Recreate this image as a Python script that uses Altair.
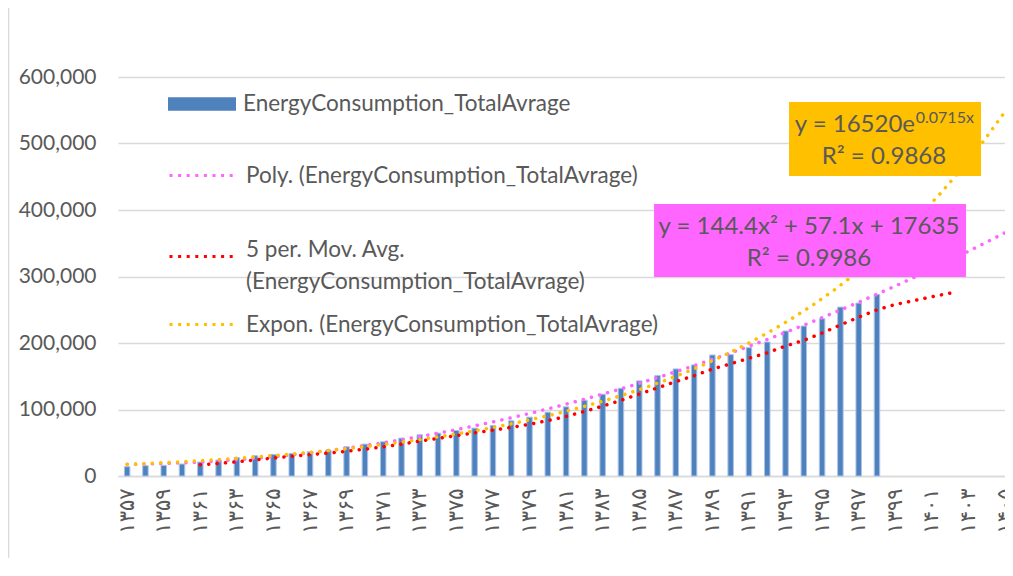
import altair as alt
import pandas as pd

# ---------------- data ----------------
years = [1357, 1358, 1359, 1360, 1361, 1362, 1363, 1364, 1365, 1366,
         1367, 1368, 1369, 1370, 1371, 1372, 1373, 1374, 1375, 1376,
         1377, 1378, 1379, 1380, 1381, 1382, 1383, 1384, 1385, 1386,
         1387, 1388, 1389, 1390, 1391, 1392, 1393, 1394, 1395, 1396,
         1397, 1398]
consumption = [14000, 15500, 16000, 18000, 21000, 24000, 27500, 30500, 32500, 34000,
               36500, 39000, 44000, 48000, 51500, 57000, 62000, 64500, 68500, 72000,
               76000, 83000, 88500, 96000, 104000, 114000, 123000, 132000, 143000, 151000,
               161000, 167000, 182000, 182500, 193000, 201500, 218000, 225500, 236500, 254000,
               260000, 273000]

ma_years = [1361, 1362, 1363, 1364, 1365, 1366, 1367, 1368, 1369, 1370,
            1371, 1372, 1373, 1374, 1375, 1376, 1377, 1378, 1379, 1380,
            1381, 1382, 1383, 1384, 1385, 1386, 1387, 1388, 1389, 1390,
            1391, 1392, 1393, 1394, 1395, 1396, 1397, 1398, 1399, 1400,
            1401, 1402]
ma_values = [16900, 18900, 21300, 24200, 27100, 29700, 32200, 34500, 37200, 40300,
             43800, 47900, 52500, 56600, 60800, 65000, 68800, 73000, 77800, 83200,
             89500, 97100, 105100, 113700, 123200, 132600, 142000, 150800, 160800, 168700,
             177100, 185200, 195400, 204100, 214900, 227100, 238800, 249800, 258000, 263500,
             269500, 275000]

tick_labels = ["۱۳۵۷", "۱۳۵۹", "۱۳۶۱", "۱۳۶۳", "۱۳۶۵", "۱۳۶۷", "۱۳۶۹", "۱۳۷۱",
               "۱۳۷۳", "۱۳۷۵", "۱۳۷۷", "۱۳۷۹", "۱۳۸۱", "۱۳۸۳", "۱۳۸۵", "۱۳۸۷",
               "۱۳۸۹", "۱۳۹۱", "۱۳۹۳", "۱۳۹۵", "۱۳۹۷", "۱۳۹۹", "۱۴۰۱", "۱۴۰۳", "۱۴۰۵"]
y_ticks = [0, 100000, 200000, 300000, 400000, 500000, 600000]

series_names = ["EnergyConsumption_TotalAvrage",
                "Poly. (EnergyConsumption_TotalAvrage)",
                "5 per. Mov. Avg. (EnergyConsumption_TotalAvrage)",
                "Expon. (EnergyConsumption_TotalAvrage)"]

# trendline forecast reaches the last category of the axis (1405)
trend_end = 49

box_x = [29.81, 37.19]
box_x2 = [46.87, 47.69]
box_y = [299200, 451100]
box_y2 = [409000, 562400]
box_fill = ["#FF66FF", "#FFC000"]

eq_text = ["y = 144.4x² + 57.1x + 17635", "R² = 0.9986", "R² = 0.9868"]
eq_x = [38.28, 38.28, 42.38]
eq_y = [374900, 326300, 479700]

# ---------------- style ----------------
FONT = "Lato"
GRAY = "#595959"
GRID = "#D9D9D9"
BASE = 1356
X_DOMAIN = [0.5, 49.0]
Y_DOMAIN = [0, 600000]

bars_df = pd.DataFrame({"year": years, "value": consumption})
bars_df["xi"] = bars_df["year"] - BASE
bars_df["series"] = series_names[0]

ma_df = pd.DataFrame({"year": ma_years, "value": ma_values})
ma_df["xi"] = ma_df["year"] - BASE
ma_df["series"] = series_names[2]

box_df = pd.DataFrame({"x": box_x, "x2": box_x2, "y": box_y, "y2": box_y2, "fill": box_fill})
eq_df = pd.DataFrame({"x": eq_x, "y": eq_y, "text": eq_text})
sup_base_df = pd.DataFrame({"x": [44.08], "y": [527800], "text": ["y = 16520e"]})
sup_df = pd.DataFrame({"x": [44.12], "y": [538300], "text": ["0.0715x"]})

label_expr = "[" + ",".join("'" + t + "'" for t in tick_labels) + "][(datum.value - 1) / 2]"

xscale = alt.Scale(domain=X_DOMAIN, nice=False, zero=False, padding=0)
yscale = alt.Scale(domain=Y_DOMAIN, nice=False, padding=0)

x_axis = alt.Axis(values=list(range(1, 50, 2)), labelExpr=label_expr, labelAngle=270,
                  labelFont="DejaVu Sans", labelFontSize=21, labelColor=GRAY,
                  labelPadding=12, ticks=False, tickSize=0, grid=False,
                  domainColor=GRID, domainWidth=1.5, title="", labelFlush=False,
                  labelOverlap=False)
y_axis = alt.Axis(values=y_ticks, format=",.0f", labelFont=FONT, labelFontSize=21,
                  labelColor=GRAY, labelPadding=22, ticks=False, tickSize=0,
                  domain=False, gridColor=GRID, gridWidth=1.5, title="")


def X(field):
    return alt.X(field, scale=xscale, axis=x_axis)


def Y(field):
    return alt.Y(field, scale=yscale, axis=y_axis)


def legend(lx, ly, **kw):
    return alt.Legend(title=None, orient="none", legendX=lx, legendY=ly,
                      labelFont=FONT, labelFontSize=22.5, labelColor=GRAY,
                      labelOffset=7, labelLimit=800, padding=0, symbolSize=4624, **kw)


def d(n):
    return "datum." + n


dot = dict(strokeDash=[0.1, 8.3], strokeCap="round", strokeWidth=3.5)
xp_expr = "1 + (datum.xi - 1) * (%d - 1) / (datum.S0 - 1)" % trend_end

bars = alt.Chart(bars_df).mark_bar(width=5.5, stroke="#A9C4EB", strokeWidth=1).encode(
    x=X("xi:Q"), y=Y("value:Q"),
    color=alt.Color("series:N", scale=alt.Scale(range=["#4F81BD"]),
                    legend=legend(50, -7, symbolType="M-1,-0.2L1,-0.2L1,0.2L-1,0.2Z",
                                  symbolStrokeWidth=0, symbolOpacity=1)),
)

# ---- polynomial (order 2) least-squares trendline, solved from the bar data ----
S0, S1, S2, S3, S4 = d("S0"), d("S1"), d("S2"), d("S3"), d("S4")
T0, T1, T2 = d("T0"), d("T1"), d("T2")
det = f"({S0}*({S2}*{S4}-{S3}*{S3}) - {S1}*({S1}*{S4}-{S3}*{S2}) + {S2}*({S1}*{S3}-{S2}*{S2}))"
det0 = f"({T0}*({S2}*{S4}-{S3}*{S3}) - {S1}*({T1}*{S4}-{S3}*{T2}) + {S2}*({T1}*{S3}-{S2}*{T2}))"
det1 = f"({S0}*({T1}*{S4}-{S3}*{T2}) - {T0}*({S1}*{S4}-{S3}*{S2}) + {S2}*({S1}*{T2}-{T1}*{S2}))"
det2 = f"({S0}*({S2}*{T2}-{T1}*{S3}) - {S1}*({S1}*{T2}-{T1}*{S2}) + {T0}*({S1}*{S3}-{S2}*{S2}))"

poly = alt.Chart(bars_df).transform_calculate(
    q2="datum.xi * datum.xi",
    q3="pow(datum.xi, 3)",
    q4="pow(datum.xi, 4)",
    qy="datum.xi * datum.value",
    q2y="datum.xi * datum.xi * datum.value",
).transform_joinaggregate(
    S0="count()", S1="sum(xi)", S2="sum(q2)", S3="sum(q3)", S4="sum(q4)",
    T0="sum(value)", T1="sum(qy)", T2="sum(q2y)",
).transform_calculate(
    c0=f"{det0} / {det}",
    c1=f"{det1} / {det}",
    c2=f"{det2} / {det}",
    xp=xp_expr,
).transform_calculate(
    yp="datum.c0 + datum.c1 * datum.xp + datum.c2 * datum.xp * datum.xp",
    series="'" + series_names[1] + "'",
).mark_line(**dot).encode(
    x=X("xp:Q"), y=Y("yp:Q"),
    color=alt.Color("series:N", scale=alt.Scale(range=["#FF66FF"]),
                    legend=legend(50, 63, symbolType="stroke", symbolStrokeWidth=3,
                                  symbolDash=[3, 5.6])),
)

ma = alt.Chart(ma_df).mark_line(**dot).encode(
    x=X("xi:Q"), y=Y("value:Q"),
    color=alt.Color("series:N", scale=alt.Scale(range=["#FF0000"]),
                    legend=legend(50, 144, symbolType="stroke", symbolStrokeWidth=3,
                                  symbolDash=[3, 5.6], labelBaseline="alphabetic",
                                  labelExpr="['5 per. Mov. Avg.', '(EnergyConsumption_TotalAvrage)']")),
)

# ---- exponential trendline (least squares on log values), solved from the bar data ----
expo = alt.Chart(bars_df).transform_calculate(
    lv="log(datum.value)",
    xx="datum.xi * datum.xi",
    xlv="datum.xi * log(datum.value)",
).transform_joinaggregate(
    S0="count()", sx="sum(xi)", sxx="sum(xx)", sy="sum(lv)", sxy="sum(xlv)",
).transform_calculate(
    b="(datum.S0 * datum.sxy - datum.sx * datum.sy) / (datum.S0 * datum.sxx - datum.sx * datum.sx)",
).transform_calculate(
    a="(datum.sy - datum.b * datum.sx) / datum.S0",
    xp=xp_expr,
).transform_calculate(
    ev="exp(datum.a + datum.b * datum.xp)",
    series="'" + series_names[3] + "'",
).mark_line(**dot).encode(
    x=X("xp:Q"), y=Y("ev:Q"),
    color=alt.Color("series:N", scale=alt.Scale(range=["#FFC000"]),
                    legend=legend(50, 212, symbolType="stroke", symbolStrokeWidth=3,
                                  symbolDash=[3, 5.6])),
)

boxes = alt.Chart(box_df).mark_rect().encode(
    x=X("x:Q"), x2="x2", y=Y("y:Q"), y2="y2", fill=alt.Fill("fill:N", scale=None)
)

eq_center = alt.Chart(eq_df).mark_text(font=FONT, fontSize=24, color=GRAY, align="center",
                                       baseline="middle").encode(
    x=X("x:Q"), y=Y("y:Q"), text="text:N")
eq_base = alt.Chart(sup_base_df).mark_text(font=FONT, fontSize=24, color=GRAY, align="right",
                                           baseline="middle").encode(
    x=X("x:Q"), y=Y("y:Q"), text="text:N")
eq_sup = alt.Chart(sup_df).mark_text(font=FONT, fontSize=16, color=GRAY, align="left",
                                     baseline="middle").encode(
    x=X("x:Q"), y=Y("y:Q"), text="text:N")

border = alt.Chart(pd.DataFrame({"k": [0]})).mark_rule(color=GRID, strokeWidth=1.5).encode(
    x=alt.value(-109.5), y=alt.value(-69), y2=alt.value(481))

chart = alt.layer(border, bars, poly, ma, expo, boxes, eq_center, eq_base, eq_sup).resolve_scale(
    color="independent"
).properties(
    width=887, height=399,
    autosize=alt.AutoSizeParams(type="none"),
    padding={"left": 110, "top": 69, "right": 0, "bottom": 82},
    background="white",
).configure(
    style={"guide-label": {"lineHeight": 32}},
    view={"strokeWidth": 0},
)

chart.save("out.html", embed_options={"renderer": "svg", "actions": False})
